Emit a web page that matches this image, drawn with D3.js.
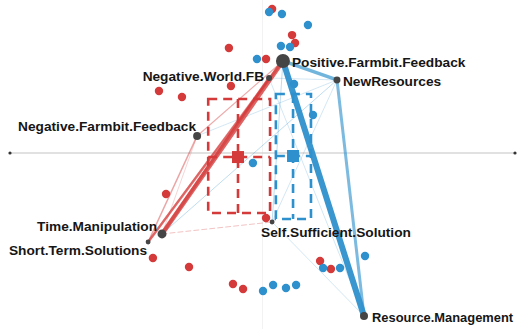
<!DOCTYPE html>
<html>
<head>
<meta charset="utf-8">
<script src="https://cdn.jsdelivr.net/npm/d3@7"></script>
<style>
  html, body { margin: 0; padding: 0; background: #fff; }
  svg { display: block; }
  text { font-family: "Liberation Sans", Arial, sans-serif; font-weight: bold; }
</style>
</head>
<body>
<svg id="chart" width="520" height="329"></svg>
<script>
// ---- data ----
const nodeNames = ["Positive.Farmbit.Feedback", "NewResources", "Negative.World.FB",
  "Negative.Farmbit.Feedback", "Time.Manipulation", "Short.Term.Solutions",
  "Self.Sufficient.Solution", "Resource.Management"];
const nodeX = [0.081, 0.295, 0.026, -0.259, -0.398, -0.453, 0.038, 0.402];
const nodeY = [0.523, 0.415, 0.426, 0.097, -0.460, -0.506, -0.392, -0.926];
const nodeCount = [49, 12, 9, 16, 20, 6, 6, 16];

const groups = ["A", "B"];
const redX = [-0.133, -0.410, -0.319, -0.125, -0.382, -0.434, -0.291, -0.117, -0.077, 0.038, 0.117, 0.129, 0.014, 0.014, 0.228, 0.271];
const redY = [0.597, 0.352, 0.318, 0.381, -0.233, -0.597, -0.648, -0.744, -0.773, 0.818, 0.670, 0.625, 0.534, -0.369, -0.614, -0.659];
const blueX = [0.026, 0.077, 0.180, 0.073, 0.109, -0.022, 0.125, 0.200, -0.038, 0.240, 0.307, 0.406, 0.002, 0.042, 0.093, 0.133];
const blueY = [0.801, 0.790, 0.727, 0.608, 0.602, 0.534, 0.392, 0.216, -0.057, -0.653, -0.653, -0.585, -0.784, -0.750, -0.767, -0.750];

// group centroids with spread (low / high)
const centX = [-0.097, 0.121];
const centXlo = [-0.215, 0.053];
const centXhi = [0.030, 0.192];
const centY = [-0.023, -0.017];
const centYlo = [-0.341, -0.375];
const centYhi = [0.307, 0.335];

// edges: source, target, weight, group
const redEdgeSrc = ["Positive.Farmbit.Feedback", "Negative.World.FB", "Positive.Farmbit.Feedback", "Negative.World.FB", "Negative.Farmbit.Feedback", "Negative.Farmbit.Feedback", "Negative.Farmbit.Feedback", "Time.Manipulation"];
const redEdgeTgt = ["Time.Manipulation", "Time.Manipulation", "Short.Term.Solutions", "Short.Term.Solutions", "Short.Term.Solutions", "Positive.Farmbit.Feedback", "Time.Manipulation", "Self.Sufficient.Solution"];
const redEdgeW = [9, 6, 5, 4, 3, 2.4, 1.2, 1.6];
const blueEdgeSrc = ["Positive.Farmbit.Feedback", "Positive.Farmbit.Feedback", "NewResources", "Positive.Farmbit.Feedback", "NewResources", "NewResources", "NewResources", "NewResources", "Self.Sufficient.Solution", "Negative.World.FB"];
const blueEdgeTgt = ["Resource.Management", "NewResources", "Resource.Management", "Self.Sufficient.Solution", "Time.Manipulation", "Negative.Farmbit.Feedback", "Self.Sufficient.Solution", "Negative.World.FB", "Resource.Management", "Resource.Management"];
const blueEdgeW = [12, 7, 6, 1.6, 1.6, 1.2, 1.2, 1.2, 1.2, 1.2];

// ---- drawing ----
const W = 520, H = 329;
const svg = d3.select("#chart");
const x = d3.scaleLinear().domain([-1, 1]).range([10, 515]);
const y = d3.scaleLinear().domain([-1, 1]).range([329, -23]);
const color = d3.scaleOrdinal().domain(groups).range(["#d43a3a", "#2e90cc"]);
const wScale = d3.scaleLinear().domain([0, 12]).range([0, 6]);
const opScale = d3.scaleLinear().domain([1, 12]).range([0.35, 0.95]).clamp(true);
const rScale = d3.scaleSqrt().domain([0, 49]).range([0, 7]);

const nodes = nodeNames.map((n, i) => ({ name: n, x: nodeX[i], y: nodeY[i], c: nodeCount[i] }));
const byName = Object.fromEntries(nodes.map(d => [d.name, d]));

// faint vertical axis
svg.append("line")
  .attr("x1", x(0)).attr("x2", x(0)).attr("y1", 0).attr("y2", H)
  .attr("stroke", "#f2f2f2").attr("stroke-width", 1);

// horizontal axis
svg.append("line")
  .attr("x1", x(-1)).attr("x2", x(1)).attr("y1", y(0)).attr("y2", y(0))
  .attr("stroke", "#c4c4c4").attr("stroke-width", 1.2);
svg.selectAll("circle.axend").data([-1, 1]).enter().append("circle")
  .attr("cx", d => x(d)).attr("cy", y(0)).attr("r", 1.6).attr("fill", "#333");

// edges
const edges = [];
redEdgeSrc.forEach((s, i) => edges.push({ s, t: redEdgeTgt[i], w: redEdgeW[i], g: "A", dashed: s === "Time.Manipulation" && redEdgeTgt[i] === "Self.Sufficient.Solution" }));
blueEdgeSrc.forEach((s, i) => edges.push({ s, t: blueEdgeTgt[i], w: blueEdgeW[i], g: "B", dashed: false }));
edges.sort((a, b) => a.w - b.w);

svg.append("g").selectAll("line").data(edges).enter().append("line")
  .attr("x1", d => x(byName[d.s].x)).attr("y1", d => y(byName[d.s].y))
  .attr("x2", d => x(byName[d.t].x)).attr("y2", d => y(byName[d.t].y))
  .attr("stroke", d => color(d.g))
  .attr("stroke-width", d => wScale(d.w))
  .attr("stroke-opacity", d => opScale(d.w))
  .attr("stroke-dasharray", d => d.dashed ? "5,3" : null)
  .attr("stroke-linecap", "round");

// individual points
const pts = redX.map((v, i) => ({ x: v, y: redY[i], g: "A" }))
  .concat(blueX.map((v, i) => ({ x: v, y: blueY[i], g: "B" })));
svg.append("g").selectAll("circle").data(pts).enter().append("circle")
  .attr("cx", d => x(d.x)).attr("cy", d => y(d.y)).attr("r", 4.2)
  .attr("fill", d => color(d.g));

// centroids with dashed spread boxes
const cents = groups.map((g, i) => ({ g, cx: centX[i], lo: centXlo[i], hi: centXhi[i], cy: centY[i], ylo: centYlo[i], yhi: centYhi[i] }));
const cg = svg.append("g").selectAll("g").data(cents).enter().append("g");
cg.append("rect")
  .attr("x", d => x(d.lo)).attr("y", d => y(d.yhi))
  .attr("width", d => x(d.hi) - x(d.lo)).attr("height", d => y(d.ylo) - y(d.yhi))
  .attr("fill", "none").attr("stroke", d => color(d.g))
  .attr("stroke-width", 2.6).attr("stroke-dasharray", "9,6");
cg.append("line")
  .attr("x1", d => x(d.cx)).attr("x2", d => x(d.cx))
  .attr("y1", d => y(d.yhi)).attr("y2", d => y(d.ylo))
  .attr("stroke", d => color(d.g)).attr("stroke-width", 2.6).attr("stroke-dasharray", "9,6");
cg.append("line")
  .attr("x1", d => x(d.lo)).attr("x2", d => x(d.hi))
  .attr("y1", d => y(d.cy)).attr("y2", d => y(d.cy))
  .attr("stroke", d => color(d.g)).attr("stroke-width", 2.6).attr("stroke-dasharray", "9,6");
cg.append("rect")
  .attr("x", d => x(d.cx) - 6).attr("y", d => y(d.cy) - 6)
  .attr("width", 12).attr("height", 12)
  .attr("fill", d => color(d.g));

// nodes
svg.append("g").selectAll("circle").data(nodes).enter().append("circle")
  .attr("cx", d => x(d.x)).attr("cy", d => y(d.y)).attr("r", d => rScale(d.c))
  .attr("fill", "#454545");

// labels
const labelPos = {
  "Positive.Farmbit.Feedback": { dx: 9, dy: 1, a: "start", fs: 13.7 },
  "NewResources": { dx: 6, dy: 1.5, a: "start", fs: 13.7 },
  "Negative.World.FB": { dx: -5, dy: -2, a: "end", fs: 13.7 },
  "Negative.Farmbit.Feedback": { dx: -1, dy: -10, a: "end", fs: 13.7 },
  "Time.Manipulation": { dx: -5, dy: -8, a: "end", fs: 13.7 },
  "Short.Term.Solutions": { dx: -1, dy: 8, a: "end", fs: 13.7 },
  "Self.Sufficient.Solution": { dx: -11, dy: 10, a: "start", fs: 13.7 },
  "Resource.Management": { dx: 8, dy: 1, a: "start", fs: 12.9 }
};
svg.append("g").selectAll("text").data(nodes).enter().append("text")
  .attr("x", d => x(d.x) + labelPos[d.name].dx)
  .attr("y", d => y(d.y) + labelPos[d.name].dy)
  .attr("dy", "0.36em")
  .attr("text-anchor", d => labelPos[d.name].a)
  .attr("font-size", d => labelPos[d.name].fs)
  .attr("fill", "#161616")
  .text(d => d.name);
</script>
</body>
</html>
